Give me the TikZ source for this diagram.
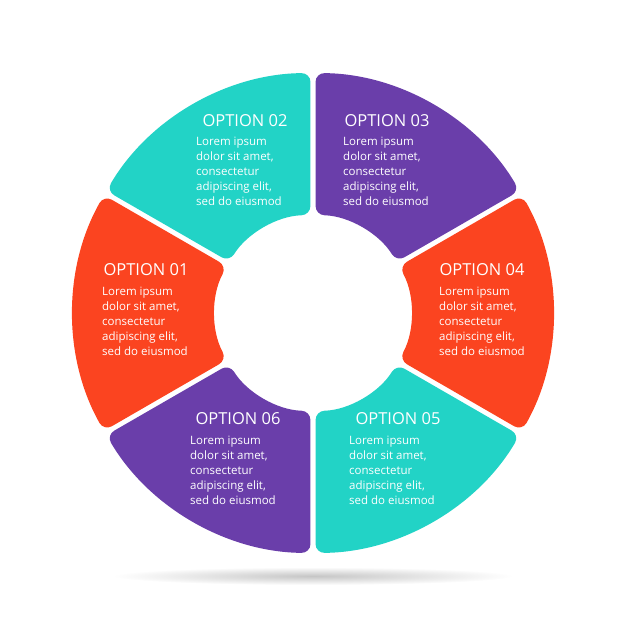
\documentclass[tikz,border=0pt]{standalone}
\usepackage{fontspec}
\setmainfont{Open Sans}
\usetikzlibrary{shadings}
\definecolor{tealc}{HTML}{22D3C6}
\definecolor{purp}{HTML}{6A3EAA}
\definecolor{orng}{HTML}{FB4420}
\tikzset{
  seg/.style={rounded corners=9pt},
  ttl/.style={text=white,font=\fontsize{16.5}{20}\selectfont,inner sep=0pt},
  bdy/.style={text=white,font=\fontsize{11.5}{15}\selectfont,align=left,anchor=north west,inner sep=0pt}
}
\newcommand{\sector}[3]{%
  \fill[#3,seg] (#1+0.6:240) arc[start angle=#1+0.6,end angle=#2-0.6,radius=240]
    -- (#2-1.5:98) arc[start angle=#2-1.5,end angle=#1+1.5,radius=98] -- cycle;}
\begin{document}
\begin{tikzpicture}[x=1pt,y=1pt]
\useasboundingbox (-313,-313) rectangle (313,313);
\shade[inner color=gray!45,outer color=white] (0,-263) ellipse[x radius=200,y radius=9];
\sector{30}{90}{purp}
\sector{90}{150}{tealc}
\sector{150}{210}{orng}
\sector{210}{270}{purp}
\sector{270}{330}{tealc}
\sector{-30}{30}{orng}
\def\txt{Lorem ipsum\\dolor sit amet,\\consectetur\\adipiscing elit,\\sed do eiusmod}
\node[ttl] (t2) at (-68,192) {OPTION 02};
\node[bdy] (b2) at (-117,176) {\txt};
\node[ttl] (t3) at (74,192) {OPTION 03};
\node[bdy] (b3) at (30,176) {\txt};
\node[ttl] (t1) at (-167,43) {OPTION 01};
\node[bdy] (b1) at (-211,26) {\txt};
\node[ttl] (t4) at (169,43) {OPTION 04};
\node[bdy] (b4) at (126,26) {\txt};
\node[ttl] (t6) at (-75,-106) {OPTION 06};
\node[bdy] (b6) at (-123,-123) {\txt};
\node[ttl] (t5) at (85,-106) {OPTION 05};
\node[bdy] (b5) at (36,-123) {\txt};
\end{tikzpicture}
\end{document}
